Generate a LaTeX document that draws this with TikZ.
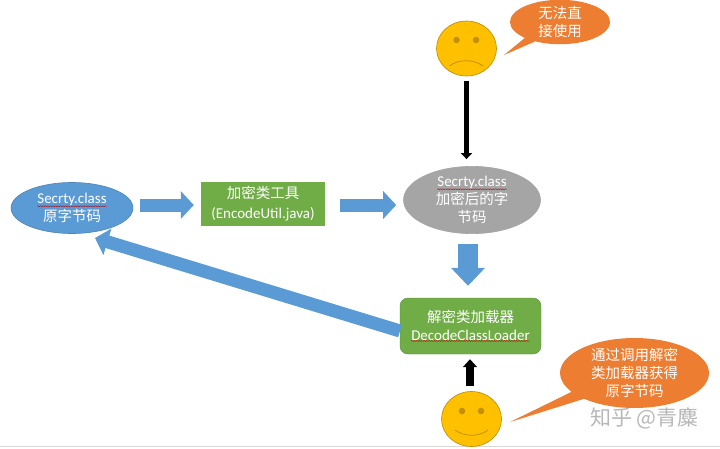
\documentclass[tikz,border=0pt]{standalone}
\usepackage{fontspec}
\usepackage{xcolor}
\setmainfont{Carlito}
\newfontfamily\cjk{Noto Sans CJK SC}
\usetikzlibrary{shapes.geometric, shapes.callouts, arrows.meta, positioning, decorations.pathmorphing}
\definecolor{blueFill}{HTML}{5B9BD5}
\definecolor{greenFill}{HTML}{70AD47}
\definecolor{orangeFill}{HTML}{ED7D31}
\definecolor{greyFill}{HTML}{A5A5A5}
\definecolor{faceFill}{HTML}{FFC000}
\definecolor{faceLine}{HTML}{BC8C00}
\newcommand{\zh}[1]{{\cjk\fontsize{14.5}{18}\selectfont #1}}
\newcommand{\wavy}[1]{\tikz[baseline=(w.base)]{\node[rectangle, draw=none, fill=none, minimum width=0pt, minimum height=0pt, inner sep=0pt] (w) {#1}; \draw[red!75!black, line width=.4pt, fill=none, sharp corners, decorate, decoration={snake, amplitude=.5pt, segment length=2.5pt}] (w.south west) -- (w.south east);}}

\begin{document}
\begin{tikzpicture}[
    x=1pt, y=-1pt,
    every node/.style={font=\fontsize{15}{18}\selectfont, text=white, align=center, inner sep=0pt},
    classnode/.style={ellipse, minimum width=#1, line width=.6pt},
    toolbox/.style={rectangle, fill=greenFill, minimum width=124pt, minimum height=44pt},
    loaderbox/.style={rectangle, rounded corners=8pt, fill=greenFill, draw=greenFill!80!black, minimum width=141pt, minimum height=56pt},
    face/.style={ellipse, fill=faceFill, draw=faceLine, line width=.6pt, minimum width=60pt, minimum height=55pt},
    speech/.style={ellipse callout, fill=orangeFill},
    fatarrow/.style={-{Triangle[length=13pt, width=27pt]}, draw=blueFill, line width=13pt},
    blackarrow/.style={-{Triangle[length=6pt, width=11pt]}, draw=black}
]
\useasboundingbox (0,0) rectangle (720,448);
\fill[white] (0,0) rectangle (720,448);
\draw[black!15] (0,446.5) -- (720,446.5);

% Classes
\node[classnode=122pt, fill=blueFill, draw=blueFill!85!black, minimum height=51pt] (plain) at (72,208)
    {\wavy{Secrty.class}\\\zh{原字节码}};
\node[toolbox] (encode) at (263,204) {\zh{加密类工具}\\[2pt](EncodeUtil.java)};
\node[classnode=137pt, fill=greyFill, draw=greyFill, minimum height=56pt] (cipher) at (472,200)
    {\wavy{Secrty.class}\\\zh{加密后的字}\\\zh{节码}};
\node[loaderbox] (loader) at (470.5,326) {\zh{解密类加载器}\\\wavy{DecodeClassLoader}};

% Faces
\node[face] (sad) at (466.5,48.5) {};
\node[face] (happy) at (471.5,419) {};
\fill[faceLine!90!faceFill] (456.5,40) circle (3.3pt) (476,40) circle (3.3pt);
\draw[faceLine, line width=.7pt] (449.5,66) .. controls (458,59) and (474,59) .. (483,66);
\fill[faceLine!90!faceFill] (462,411) circle (3.3pt) (481,411) circle (3.3pt);
\draw[faceLine, line width=.7pt] (455,430) .. controls (464,437) and (479,437) .. (488,430);

% Speech bubbles
\node[speech, minimum width=100pt, minimum height=39pt, callout absolute pointer={(504,55)}] (sadnote) at (560,22)
    {\zh{无法直}\\\zh{接使用}};
\node[speech, minimum width=149pt, minimum height=52pt, callout absolute pointer={(510,422)}] (happynote) at (634.5,373)
    {\zh{通过调用解密}\\\zh{类加载器获得}\\\zh{原字节码}};

% Watermark
\node[text=black!28, font=\cjk\fontsize{21}{21}\selectfont, anchor=west] (mark) at (590,418) {知乎 @青麋};

% Arrows
\coordinate (row) at (0,205);
\coordinate (column) at (468,0);
\coordinate (upcolumn) at (470,0);
\coordinate (backtail) at (400,331);
\coordinate (backtip) at (95,238);
\draw[fatarrow, shorten <=7pt, shorten >=7pt] (plain.east |- row) -- (encode.west |- row);
\draw[fatarrow, shorten <=15pt, shorten >=7pt] (encode.east |- row) -- (cipher.west |- row);
\draw[fatarrow, line width=20pt, -{Triangle[length=18pt, width=33pt]}, shorten <=10pt, shorten >=12pt] (cipher.south -| column) -- (loader.north -| column);
\draw[fatarrow] (backtail) -- (backtip);
\draw[blackarrow, line width=5.5pt, shorten <=5pt, shorten >=7pt] (sad.south) -- (cipher.north -| sad.south);
\draw[blackarrow, line width=8pt, -{Triangle[length=8pt, width=14pt]}, shorten <=5pt, shorten >=5pt] (happy.north -| upcolumn) -- (loader.south -| upcolumn);
\end{tikzpicture}
\end{document}
